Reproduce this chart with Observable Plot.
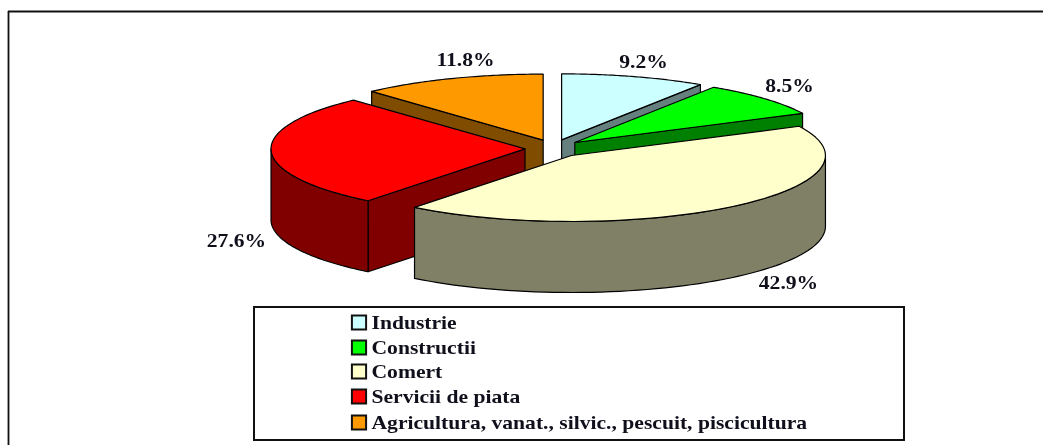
<!DOCTYPE html>
<html>
<head>
<meta charset="utf-8">
<script src="https://cdn.jsdelivr.net/npm/d3@7"></script>
<script src="https://cdn.jsdelivr.net/npm/@observablehq/plot@0.6"></script>
<style>
  html, body { margin: 0; padding: 0; background: #fff; overflow: hidden; }
  svg { display: block; filter: blur(0.6px); }
</style>
</head>
<body>
<div id="chart"></div>
<script>
const categories = ["Industrie", "Constructii", "Comert", "Servicii de piata", "Agricultura, vanat., silvic., pescuit, piscicultura"];
const shares = [9.2, 8.5, 42.9, 27.6, 11.8];
const shareLabels = ["9.2%", "8.5%", "42.9%", "27.6%", "11.8%"];
const topColors = ["#ccffff", "#00ff00", "#ffffcc", "#ff0000", "#ff9900"];
const sideColors = ["#668080", "#008000", "#808066", "#800000", "#804c00"];

// layout constants (pixels)
const W = 1043, H = 445;
const C = {x: 553, y: 148}, RX = 254, RY = 66, DEPTH = 71, EX = 28.5, EY = 9;
const labelPos = [[643, 61], [789, 85], [788, 282], [236, 240], [465, 59]];
const legendRowY = [322, 347, 371, 396, 422];
const SWATCH_X = 358.5, TEXT_X = 371;

const total = d3.sum(shares);
const rad = d => d * Math.PI / 180;
let acc = 0;
const slices = shares.map((v, i) => {
  const a0 = acc / total * 360; acc += v; const a1 = acc / total * 360;
  const m = rad((a0 + a1) / 2);
  return {i, a0, a1, cx: C.x + EX * Math.sin(m), cy: C.y - EY * Math.cos(m)};
});
const pt = (s, a) => ({x: s.cx + RX * Math.sin(rad(a)), y: s.cy - RY * Math.cos(rad(a))});
const arc = (s, a0, a1) => d3.range(0, 61).map(k => pt(s, a0 + (a1 - a0) * k / 60));

const outline = {stroke: "#000", strokeWidth: 1.2};
const marks = [];

// outer frame: top and left edges only
marks.push(Plot.ruleY([11], {x1: 8, x2: W, stroke: "#111", strokeWidth: 1.8}));
marks.push(Plot.ruleX([8], {y1: 11, y2: H, stroke: "#111", strokeWidth: 1.8}));

const closed = pts => [...pts, pts[0]];
const wallMark = (pts, fill) => Plot.line(closed(pts), {x: "x", y: "y", fill, ...outline});
const drop = (p) => ({x: p.x, y: p.y + DEPTH});

// painter's order: back slices first
[4, 0, 1, 3, 2].forEach(i => {
  const s = slices[i];
  const apex = {x: s.cx, y: s.cy};
  const edgeWall = a => {
    const p = pt(s, a);
    marks.push(wallMark([apex, p, drop(p), drop(apex)], sideColors[i]));
  };
  // radial faces that turn towards the viewer
  if (Math.sin(rad(s.a0)) < -1e-6) edgeWall(s.a0);
  if (Math.sin(rad(s.a1)) > 1e-6) edgeWall(s.a1);
  // rim: only the part on the near half of the pie
  const f0 = Math.max(s.a0, 90), f1 = Math.min(s.a1, 270);
  if (f1 > f0) {
    const rim = arc(s, f0, f1);
    marks.push(wallMark([...rim, ...rim.map(drop).reverse()], sideColors[i]));
  }
  marks.push(wallMark([apex, ...arc(s, s.a0, s.a1)], topColors[i]));
});

// value labels
const labelRows = shareLabels.map((t, i) => ({t, x: labelPos[i][0], y: labelPos[i][1]}));
const textStyle = {fontFamily: "Liberation Serif", fontWeight: "bold", fill: "#10101c"};
marks.push(Plot.text(labelRows, {x: "x", y: "y", text: "t", fontSize: 19, textAnchor: "middle", ...textStyle}));

// legend box
marks.push(Plot.rect([0], {x1: 254, x2: 904, y1: 307, y2: 440, fill: "#fff", stroke: "#111", strokeWidth: 2}));
const legendRows = categories.map((c, i) => ({c, y: legendRowY[i], x: SWATCH_X, col: topColors[i]}));
marks.push(Plot.dot(legendRows, {x: "x", y: "y", symbol: "square", r: 8, fill: "col", stroke: "#111", strokeWidth: 2}));
marks.push(Plot.text(legendRows, {x: () => TEXT_X, y: "y", text: "c", fontSize: 19, textAnchor: "start", ...textStyle}));

const chart = Plot.plot({
  width: W, height: H,
  margin: 0,
  x: {domain: [0, W], range: [0, W], axis: null},
  y: {domain: [0, H], range: [0, H], axis: null},
  marks
});
document.getElementById("chart").appendChild(chart);

// the reference's type is stretched sideways: widen glyphs, keep text real
chart.querySelectorAll("text").forEach(t => {
  const n = t.getComputedTextLength();
  if (n > 0) {
    t.setAttribute("textLength", (n * 1.137).toFixed(1));
    t.setAttribute("lengthAdjust", "spacingAndGlyphs");
  }
});
</script>
</body>
</html>
